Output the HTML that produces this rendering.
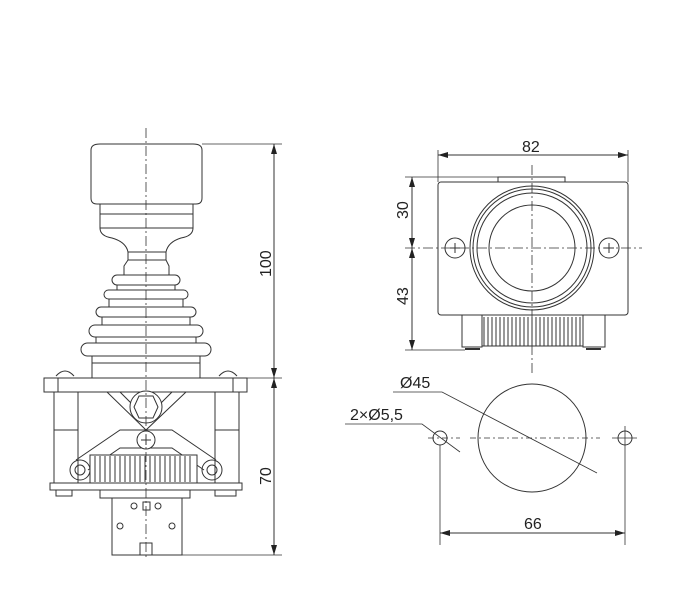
<!DOCTYPE html>
<html><head><style>
body{margin:0;background:#fff;width:690px;height:604px;overflow:hidden}
svg{display:block}
text{font-family:"Liberation Sans",sans-serif;font-size:16px;fill:#222}
</style></head><body>
<svg width="690" height="604" viewBox="0 0 690 604" xmlns="http://www.w3.org/2000/svg">
<defs>
<marker id="a" viewBox="0 0 10 6" refX="10" refY="3" markerWidth="10" markerHeight="6" orient="auto-start-reverse" markerUnits="userSpaceOnUse"><path d="M0,0 L10,3 L0,6z" fill="#222"/></marker>
</defs>
<g fill="none" stroke="#333" stroke-width="1">
<!-- LEFT VIEW -->
<path d="M91,150 Q91,144 100,144 L193,144 Q202,144 202,150 L202,198 Q202,204 196,204 L97,204 Q91,204 91,198Z"/>
<path d="M100,204 L100,228 L193,228 L193,204"/>
<line x1="100" y1="214" x2="193" y2="214"/>
<path d="M100,228 Q100,236 112,238 Q126,242 128,252 L166,252 Q168,242 181,238 Q193,236 193,228"/>
<path d="M128,252 L128,260 L124,266 L124,275 M166,252 L166,260 L169,266 L169,275 M128,260 L166,260"/>
<rect x="92" y="352" width="108" height="26" fill="#fff"/>
<rect x="81" y="343" width="130" height="13" rx="6.5" fill="#fff"/>
<rect x="96" y="337" width="100" height="6" fill="#fff"/>
<rect x="89" y="325" width="114" height="12" rx="6" fill="#fff"/>
<rect x="102" y="316" width="88" height="9" fill="#fff"/>
<rect x="96" y="307" width="100" height="10" rx="5" fill="#fff"/>
<rect x="109" y="298" width="74" height="9" fill="#fff"/>
<rect x="104" y="290" width="84" height="9" rx="4.5" fill="#fff"/>
<rect x="117" y="284" width="58" height="6" fill="#fff"/>
<rect x="112" y="275" width="68" height="10" rx="5" fill="#fff"/>
<line x1="92" y1="363" x2="200" y2="363"/>
<path d="M56,376 Q65,366 74,376 M219,376 Q228,366 237,376"/>
<rect x="44" y="378" width="203" height="14"/>
<line x1="58" y1="378" x2="58" y2="392"/><line x1="233" y1="378" x2="233" y2="392"/>
<rect x="54" y="392" width="24" height="91"/><rect x="215" y="392" width="24" height="91"/>
<line x1="54" y1="430" x2="78" y2="430"/><line x1="215" y1="430" x2="239" y2="430"/>
<path d="M107,392 L146,430 L186,392 M120,392 L146,418 L172,392"/>
<path d="M76,460 L120,430 L172,430 L216,460 M88,470 L120,448 L172,448 L204,470"/>
<circle cx="146" cy="407" r="16" fill="#fff"/><polygon points="139,396 153,396 158,407 153,418 139,418 134,407"/>
<circle cx="146" cy="440" r="9" fill="#fff"/><path d="M141,440 L151,440 M146,435 L146,445"/>
<circle cx="80" cy="470" r="10"/><circle cx="80" cy="470" r="5"/>
<circle cx="212" cy="470" r="10"/><circle cx="212" cy="470" r="5"/>
<rect x="90" y="455" width="107" height="28" fill="#fff"/>
<path d="M95,456 L95,482 M100,456 L100,482 M105,456 L105,482 M110,456 L110,482 M115,456 L115,482 M120,456 L120,482 M125,456 L125,482 M130,456 L130,482 M135,456 L135,482 M140,456 L140,482 M145,456 L145,482 M150,456 L150,482 M155,456 L155,482 M160,456 L160,482 M165,456 L165,482 M170,456 L170,482 M175,456 L175,482 M180,456 L180,482 M185,456 L185,482 M190,456 L190,482"/>
<rect x="50" y="483" width="192" height="7"/>
<path d="M56,490 L56,496 L72,496 L72,490 M215,490 L215,496 L236,496 L236,490"/>
<rect x="100" y="490" width="90" height="8"/>
<rect x="112" y="498" width="70" height="57"/>
<circle cx="134" cy="506" r="3"/><circle cx="158" cy="506" r="3"/><rect x="143" y="502" width="7" height="8"/>
<circle cx="120" cy="526" r="3"/><circle cx="172" cy="526" r="3"/>
<rect x="140" y="543" width="12" height="12"/>
<line x1="146" y1="128" x2="146" y2="560" stroke-dasharray="10,3,2,3" stroke-width="0.8"/>
<line x1="202" y1="144" x2="282" y2="144" stroke-width="0.8"/>
<line x1="247" y1="378" x2="282" y2="378" stroke-width="0.8"/>
<line x1="182" y1="555" x2="282" y2="555" stroke-width="0.8"/>
<line x1="274" y1="144" x2="274" y2="378" marker-start="url(#a)" marker-end="url(#a)"/>
<line x1="274" y1="378" x2="274" y2="555" marker-start="url(#a)" marker-end="url(#a)"/>

<!-- RIGHT TOP VIEW -->
<rect x="438" y="182" width="190" height="133" rx="3"/>
<rect x="498" y="177" width="67" height="5"/>
<circle cx="532" cy="248" r="62"/><circle cx="532" cy="248" r="59"/><circle cx="532" cy="248" r="55"/><circle cx="532" cy="248" r="43"/>
<circle cx="455" cy="248" r="10"/><path d="M450,248 L460,248 M455,243 L455,253"/>
<circle cx="609" cy="248" r="10"/><path d="M604,248 L614,248 M609,243 L609,253"/>
<rect x="462" y="315" width="20" height="32"/><rect x="583" y="315" width="22" height="32"/>
<path d="M484,317 L484,346 M488,317 L488,346 M492,317 L492,346 M496,317 L496,346 M500,317 L500,346 M504,317 L504,346 M508,317 L508,346 M512,317 L512,346 M516,317 L516,346 M520,317 L520,346 M524,317 L524,346 M528,317 L528,346 M532,317 L532,346 M536,317 L536,346 M540,317 L540,346 M544,317 L544,346 M548,317 L548,346 M552,317 L552,346 M556,317 L556,346 M560,317 L560,346 M564,317 L564,346 M568,317 L568,346 M572,317 L572,346 M576,317 L576,346 M580,317 L580,346"/>
<line x1="482" y1="346" x2="583" y2="346"/>
<line x1="465" y1="349" x2="480" y2="349" stroke-width="2"/><line x1="586" y1="349" x2="601" y2="349" stroke-width="2"/>
<line x1="405" y1="248" x2="642" y2="248" stroke-dasharray="10,3,2,3" stroke-width="0.8"/>
<line x1="532" y1="165" x2="532" y2="375" stroke-dasharray="10,3,2,3" stroke-width="0.8"/>
<line x1="438" y1="150" x2="438" y2="182" stroke-width="0.8"/><line x1="628" y1="150" x2="628" y2="182" stroke-width="0.8"/>
<line x1="438" y1="155" x2="628" y2="155" marker-start="url(#a)" marker-end="url(#a)"/>
<line x1="405" y1="177" x2="498" y2="177" stroke-width="0.8"/>
<line x1="405" y1="350" x2="465" y2="350" stroke-width="0.8"/>
<line x1="412" y1="177" x2="412" y2="248" marker-start="url(#a)" marker-end="url(#a)"/>
<line x1="412" y1="248" x2="412" y2="350" marker-start="url(#a)" marker-end="url(#a)"/>

<!-- RIGHT BOTTOM -->
<circle cx="532" cy="438" r="54"/>
<circle cx="440" cy="438" r="7"/><circle cx="625" cy="438" r="7"/>
<line x1="428" y1="438" x2="460" y2="438" stroke-dasharray="6,3,2,3" stroke-width="0.8"/>
<line x1="470" y1="438" x2="600" y2="438" stroke-dasharray="6,3,2,3" stroke-width="0.8"/>
<line x1="612" y1="438" x2="637" y2="438" stroke-width="0.8"/>
<line x1="625" y1="426" x2="625" y2="545" stroke-width="0.8"/>
<line x1="440" y1="445" x2="440" y2="545" stroke-width="0.8"/>
<line x1="440" y1="533" x2="625" y2="533" marker-start="url(#a)" marker-end="url(#a)"/>
<path d="M393,392 L442,392 L597,473" stroke-width="0.8"/>
<path d="M345,424 L422,424 L460,452" stroke-width="0.8"/>
</g>
<text x="254" y="260" transform="rotate(-90 271 260)">100</text>
<text x="262" y="476" transform="rotate(-90 271 476)">70</text>
<text x="522" y="152">82</text>
<text x="403" y="214" transform="rotate(-90 408 214)">30</text>
<text x="403" y="300" transform="rotate(-90 408 300)">43</text>
<text x="400" y="388">Ø45</text>
<text x="350" y="420">2×Ø5,5</text>
<text x="524" y="529">66</text>
</svg>
</body></html>
